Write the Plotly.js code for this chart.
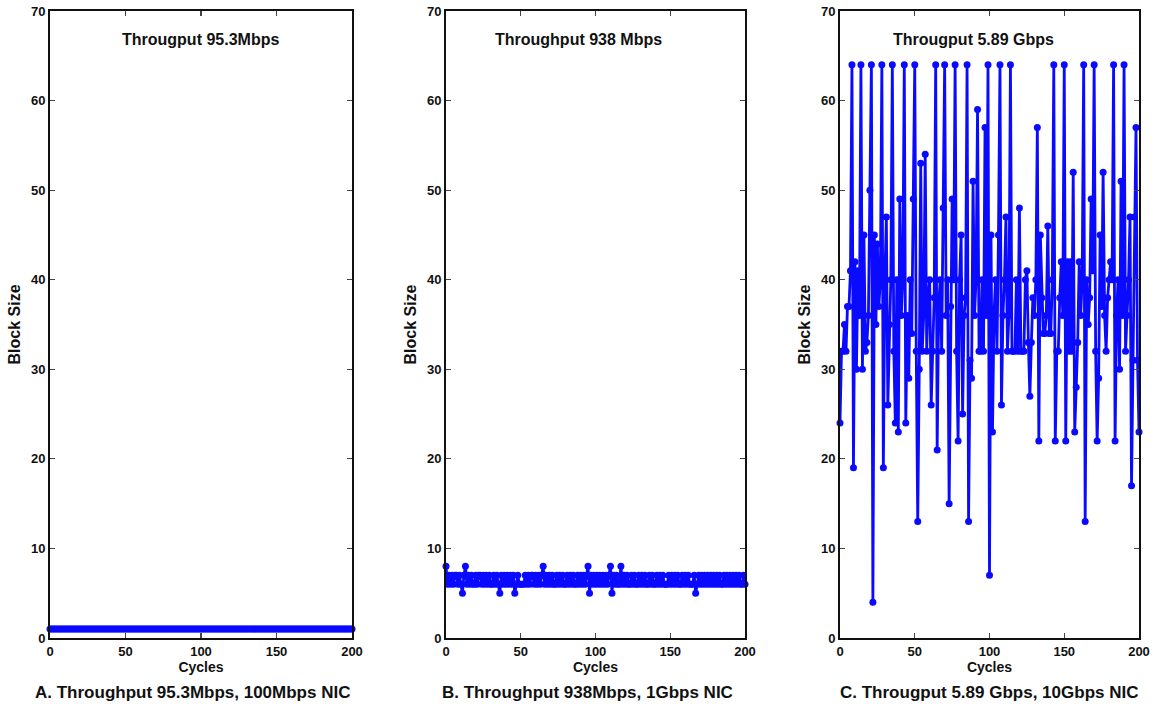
<!DOCTYPE html>
<html>
<head>
<meta charset="utf-8">
<script src="https://cdn.plot.ly/plotly-3.0.1.min.js"></script>
<style>html,body{margin:0;padding:0;background:#fff;}#chart{width:1160px;height:704px;}</style>
</head>
<body>
<div id="chart"></div>
<script>
// Cycle index (x axis)
const cycles = [0,1,2,3,4,5,6,7,8,9,10,11,12,13,14,15,16,17,18,19,20,21,22,23,24,25,26,27,28,29,30,31,32,33,34,35,36,37,38,39,40,41,42,43,44,45,46,47,48,49,50,51,52,53,54,55,56,57,58,59,60,61,62,63,64,65,66,67,68,69,70,71,72,73,74,75,76,77,78,79,80,81,82,83,84,85,86,87,88,89,90,91,92,93,94,95,96,97,98,99,100,101,102,103,104,105,106,107,108,109,110,111,112,113,114,115,116,117,118,119,120,121,122,123,124,125,126,127,128,129,130,131,132,133,134,135,136,137,138,139,140,141,142,143,144,145,146,147,148,149,150,151,152,153,154,155,156,157,158,159,160,161,162,163,164,165,166,167,168,169,170,171,172,173,174,175,176,177,178,179,180,181,182,183,184,185,186,187,188,189,190,191,192,193,194,195,196,197,198,199,200];

// A. 100Mbps NIC: block size per cycle
const blockA = [1,1,1,1,1,1,1,1,1,1,1,1,1,1,1,1,1,1,1,1,1,1,1,1,1,1,1,1,1,1,1,1,1,1,1,1,1,1,1,1,1,1,1,1,1,1,1,1,1,1,1,1,1,1,1,1,1,1,1,1,1,1,1,1,1,1,1,1,1,1,1,1,1,1,1,1,1,1,1,1,1,1,1,1,1,1,1,1,1,1,1,1,1,1,1,1,1,1,1,1,1,1,1,1,1,1,1,1,1,1,1,1,1,1,1,1,1,1,1,1,1,1,1,1,1,1,1,1,1,1,1,1,1,1,1,1,1,1,1,1,1,1,1,1,1,1,1,1,1,1,1,1,1,1,1,1,1,1,1,1,1,1,1,1,1,1,1,1,1,1,1,1,1,1,1,1,1,1,1,1,1,1,1,1,1,1,1,1,1,1,1,1,1,1,1,1,1,1,1,1,1];

// B. 1Gbps NIC
const blockB = [8,6,7,6,7,6,7,7,6,7,6,5,7,8,6,7,6,7,6,6,7,6,7,7,6,7,6,7,6,7,6,6,7,6,7,6,5,7,6,7,6,7,6,7,6,7,5,6,7,6,6,6,6,7,6,7,6,7,7,6,7,6,7,6,7,8,6,7,6,7,6,7,6,6,7,6,7,6,7,6,6,7,6,7,6,7,6,6,7,6,7,6,7,6,7,8,5,7,6,7,6,7,6,7,6,7,6,7,6,7,8,5,7,6,7,6,6,8,6,7,6,7,6,6,7,6,7,6,6,7,6,7,6,7,6,6,7,6,7,6,6,7,6,7,6,7,6,6,6,7,6,7,6,7,6,7,6,6,7,6,7,6,7,6,6,6,7,5,6,7,6,7,6,7,6,7,6,7,6,7,6,7,6,7,6,6,7,6,7,6,7,6,7,6,7,6,7,6,6,7,6];

// C. 10Gbps NIC
const blockC = [24,32,32,35,32,37,37,41,64,19,42,30,41,36,64,30,45,32,33,36,50,64,4,45,35,44,37,40,64,19,40,47,26,35,40,64,32,24,40,23,49,36,40,64,24,36,29,40,34,49,64,32,13,30,53,32,36,54,32,38,40,26,32,38,64,21,37,40,32,48,64,36,40,15,37,49,40,64,32,22,40,45,25,36,38,64,13,31,29,51,36,40,59,32,32,40,32,57,36,64,7,45,23,36,40,32,45,64,26,36,40,47,32,36,64,32,32,32,40,32,48,32,32,32,40,41,33,27,33,38,36,40,57,22,45,38,34,34,36,46,34,34,40,64,22,32,32,38,42,36,64,22,42,32,42,32,52,23,28,33,42,36,40,64,13,40,35,38,49,41,64,32,22,29,45,37,52,36,32,38,40,42,40,64,22,36,40,30,51,36,64,32,36,40,47,17,31,47,57,31,23];

const innerTitles = ["Througput 95.3Mbps", "Throughput 938 Mbps", "Througput 5.89 Gbps"];
const captions = ["A. Throughput 95.3Mbps, 100Mbps NIC", "B. Throughput 938Mbps, 1Gbps NIC", "C. Througput 5.89 Gbps, 10Gbps NIC"];
const xTitle = "Cycles";
const yTitle = "Block Size";

const FONT = "Liberation Sans, Arial, sans-serif";
const BLUE = "#0a0aff";
const INK = "#111";

const series = [blockA, blockB, blockC];
const axSuffix = ["", "2", "3"];
const traces = series.map((ys, i) => ({
  type: "scatter", mode: "lines+markers",
  x: cycles, y: ys,
  xaxis: "x" + axSuffix[i], yaxis: "y" + axSuffix[i],
  line: {color: BLUE, width: 2.8},
  marker: {color: BLUE, size: 7},
  cliponaxis: false,
  showlegend: false, hoverinfo: "x+y"
}));

const xDomains = [[50/1160, 352/1160], [446/1160, 745/1160], [840/1160, 1139/1160]];
const yDomain = [66/704, 693/704];

const layout = {
  width: 1160, height: 704,
  margin: {l: 0, r: 0, t: 0, b: 0},
  paper_bgcolor: "#fff", plot_bgcolor: "#fff",
  font: {family: FONT, color: INK},
  showlegend: false,
  annotations: []
};

const titleX = [200.5, 578, 973];
const captionX = [192, 587.5, 989];

for (let i = 0; i < 3; i++) {
  const s = axSuffix[i];
  layout["xaxis" + s] = {
    domain: xDomains[i], anchor: "y" + s,
    range: [0, 200], tickvals: [0, 50, 100, 150, 200],
    showline: true, linewidth: 2, linecolor: INK, mirror: "ticks",
    ticks: "inside", ticklen: 5, tickwidth: 1.2, tickcolor: "#444",
    showgrid: false, zeroline: false,
    tickfont: {family: FONT, size: 13, color: INK, weight: "bold"},
    title: {text: xTitle, font: {family: FONT, size: 14, color: INK, weight: "bold"}, standoff: 1}
  };
  layout["yaxis" + s] = {
    domain: yDomain, anchor: "x" + s,
    range: [0, 70], tickvals: [0, 10, 20, 30, 40, 50, 60, 70],
    showline: true, linewidth: 2, linecolor: INK, mirror: "ticks",
    ticks: "inside", ticklen: 5, tickwidth: 1.2, tickcolor: "#444",
    showgrid: false, zeroline: false,
    tickfont: {family: FONT, size: 13, color: INK, weight: "bold"},
    title: {text: yTitle, font: {family: FONT, size: 16, color: INK, weight: "bold"}, standoff: 6}
  };
  layout.annotations.push({
    text: innerTitles[i], xref: "paper", yref: "paper",
    x: titleX[i] / 1160, y: (704 - 40) / 704, xanchor: "center", yanchor: "middle",
    showarrow: false, font: {family: FONT, size: 16, color: INK, weight: "bold"}
  });
  layout.annotations.push({
    text: captions[i], xref: "paper", yref: "paper",
    x: captionX[i] / 1160, y: (704 - 692) / 704, xanchor: "center", yanchor: "middle",
    showarrow: false, font: {family: FONT, size: 17, color: INK, weight: "bold"}
  });
}

Plotly.newPlot("chart", traces, layout, {displayModeBar: false, staticPlot: true});
</script>
</body>
</html>
